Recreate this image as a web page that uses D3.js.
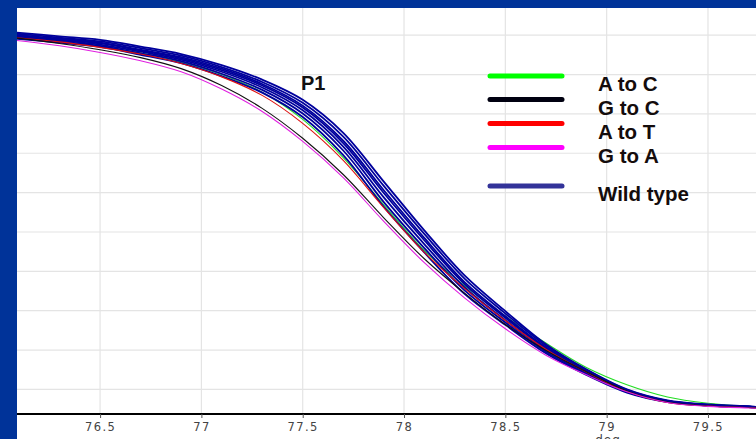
<!DOCTYPE html>
<html>
<head>
<meta charset="utf-8">
<script src="https://cdn.jsdelivr.net/npm/d3@7"></script>
<style>
  body { margin: 0; background: #003399; }
  svg { display: block; }
</style>
</head>
<body>
<script>
// melt curve temperatures (deg)
const temps = [76.08, 76.3, 76.5, 76.7, 76.9, 77.1, 77.3, 77.5, 77.7, 77.9, 78.1, 78.3, 78.5, 78.7, 78.9, 79.1, 79.3, 79.5, 79.7, 79.76]

const aToC = [89.5, 88.4, 87.1, 85.5, 83.2, 80.0, 75.5, 68.6, 58.9, 46.9, 35.3, 26.3, 18.6, 11.8, 5.6, 1.2, -1.9, -3.5, -4.3, -4.5]
const gToC = [89.3, 87.9, 86.3, 84.3, 81.5, 77.2, 71.4, 63.8, 54.6, 43.6, 33.2, 24.4, 16.5, 9.9, 4.5, -0.4, -3.2, -4.2, -4.6, -4.7]
const aToT = [89.4, 88.3, 86.9, 85.2, 82.8, 79.4, 74.7, 67.6, 58.2, 46.2, 34.8, 25.6, 17.5, 10.2, 4.4, -0.5, -3.3, -4.2, -4.6, -4.7]
const gToA = [88.7, 87.3, 85.6, 83.5, 80.7, 76.3, 70.6, 63.0, 53.8, 42.7, 32.2, 23.2, 15.4, 8.7, 3.7, -0.6, -3.3, -4.3, -4.7, -4.8]

// wild type replicates
const wild1 = [90.7, 89.7, 88.8, 87.1, 85.2, 82.4, 78.7, 73.6, 65.2, 52.8, 40.4, 28.9, 19.9, 11.5, 5.1, 0.0, -2.8, -3.8, -4.3, -4.5]
const wild2 = [90.4, 89.4, 88.4, 86.7, 84.8, 81.9, 78.1, 72.8, 64.2, 51.7, 39.5, 28.1, 19.3, 11.1, 4.9, -0.1, -2.9, -3.9, -4.3, -4.5]
const wild3 = [90.1, 89.1, 88.1, 86.3, 84.4, 81.5, 77.6, 72.1, 63.2, 50.6, 38.5, 27.2, 18.6, 10.7, 4.6, -0.3, -2.9, -3.9, -4.4, -4.6]
const wild4 = [89.9, 88.9, 87.9, 86.1, 84.1, 81.1, 77.2, 71.6, 62.6, 49.9, 37.9, 26.7, 18.2, 10.4, 4.5, -0.4, -3.0, -4.0, -4.4, -4.6]
const wild5 = [89.7, 88.7, 87.6, 85.8, 83.8, 80.7, 76.7, 70.9, 61.7, 48.8, 36.9, 25.9, 17.6, 10.0, 4.2, -0.5, -3.0, -4.0, -4.4, -4.6]
const wild6 = [89.4, 88.4, 87.3, 85.4, 83.4, 80.2, 76.1, 70.1, 60.7, 47.6, 35.9, 25.1, 17.0, 9.6, 4.0, -0.6, -3.1, -4.1, -4.5, -4.7]
const wild7 = [89.1, 88.1, 87.0, 85.0, 82.9, 79.6, 75.4, 69.2, 59.5, 46.4, 34.8, 24.2, 16.4, 9.2, 3.7, -0.8, -3.2, -4.1, -4.5, -4.7]

const xTicks = [76.5, 77, 77.5, 78, 78.5, 79, 79.5]
const yGrid = [0, 10, 20, 30, 40, 50, 60, 70, 80, 90]

const legendNames = ['A to C', 'G to C', 'A to T', 'G to A', 'Wild type']
const legendColors = ['#00ff00', '#000010', '#ff0000', '#ff00ff', '#333399']

const w = 756
const h = 439
const plotLeft = 17
const plotTop = 8
const axisY = 414

const xScale = d3.scaleLinear()
  .domain([76.09, 79.737])
  .range([plotLeft, w])

const yScale = d3.scaleLinear()
  .domain([-6.24, 96.9])
  .range([axisY, plotTop])

const svg = d3.select('body')
  .append('svg')
  .attr('width', w)
  .attr('height', h)

svg.append('rect')
  .attr('x', plotLeft)
  .attr('y', plotTop)
  .attr('width', w - plotLeft)
  .attr('height', h - plotTop)
  .attr('fill', '#fff')

svg.append('clipPath')
  .attr('id', 'plot')
  .append('rect')
  .attr('x', plotLeft)
  .attr('y', plotTop)
  .attr('width', w - plotLeft)
  .attr('height', axisY - plotTop)

// grid
svg.append('g')
  .selectAll('line')
  .data(xTicks)
  .enter()
  .append('line')
  .attr('x1', d => xScale(d))
  .attr('x2', d => xScale(d))
  .attr('y1', plotTop)
  .attr('y2', axisY)
  .attr('stroke', '#e4e4e4')
  .attr('stroke-width', 1.2)

svg.append('g')
  .selectAll('line')
  .data(yGrid)
  .enter()
  .append('line')
  .attr('x1', plotLeft)
  .attr('x2', w)
  .attr('y1', d => yScale(d))
  .attr('y2', d => yScale(d))
  .attr('stroke', '#e4e4e4')
  .attr('stroke-width', 1.2)

const line = d3.line()
  .x((d, i) => xScale(temps[i]))
  .y(d => yScale(d))
  .curve(d3.curveCatmullRom)

const curves = svg.append('g').attr('clip-path', 'url(#plot)')

const drawCurve = (values, color, width) => {
  curves.append('path')
    .datum(values)
    .attr('d', line)
    .attr('fill', 'none')
    .attr('stroke', color)
    .attr('stroke-width', width)
}

drawCurve(aToC, '#22dd22', 1.1)
;[wild1, wild2, wild3, wild4, wild5, wild6, wild7].forEach(d => drawCurve(d, '#00009c', 1.8))
drawCurve(aToT, '#dd1111', 1.1)
drawCurve(gToC, '#111111', 1.1)
drawCurve(gToA, '#e020e0', 1.1)

// x axis
const xAxis = d3.axisBottom(xScale)
  .tickValues(xTicks)
  .tickSize(4)
  .tickPadding(5)
  .tickFormat(d3.format('~g'))

const gx = svg.append('g')
  .attr('transform', `translate(0, ${axisY})`)
  .call(xAxis)

gx.select('.domain')
  .attr('d', `M${plotLeft},0H${w}`)
  .attr('stroke', '#000')
  .attr('stroke-width', 2)

gx.selectAll('.tick line').attr('stroke', '#555')

gx.selectAll('.tick text')
  .attr('font-family', 'DejaVu Sans')
  .attr('font-size', 11.5)
  .attr('letter-spacing', 1.4)
  .attr('fill', '#444')

svg.append('text')
  .attr('x', 608)
  .attr('y', 444)
  .attr('text-anchor', 'middle')
  .attr('font-family', 'DejaVu Sans')
  .attr('font-size', 12)
  .attr('letter-spacing', 1)
  .attr('fill', '#444')
  .text('deg')

// labels and legend
svg.append('text')
  .attr('x', 301)
  .attr('y', 90)
  .attr('font-family', 'Liberation Sans, Arial')
  .attr('font-weight', 'bold')
  .attr('font-size', 20)
  .attr('fill', '#111')
  .text('P1')

const legendY = [76, 99.5, 123.5, 147.5, 186]

const legend = svg.append('g')
  .selectAll('g')
  .data(legendNames)
  .enter()
  .append('g')
  .attr('transform', (d, i) => `translate(0, ${legendY[i]})`)

legend.append('line')
  .attr('x1', 490)
  .attr('x2', 562)
  .attr('stroke', (d, i) => legendColors[i])
  .attr('stroke-width', 5)
  .attr('stroke-linecap', 'round')

legend.append('text')
  .attr('x', 598)
  .attr('y', 15)
  .attr('font-family', 'Liberation Sans, Arial')
  .attr('font-weight', 'bold')
  .attr('font-size', 20.5)
  .attr('fill', '#140c0c')
  .text(d => d)
</script>
</body>
</html>
